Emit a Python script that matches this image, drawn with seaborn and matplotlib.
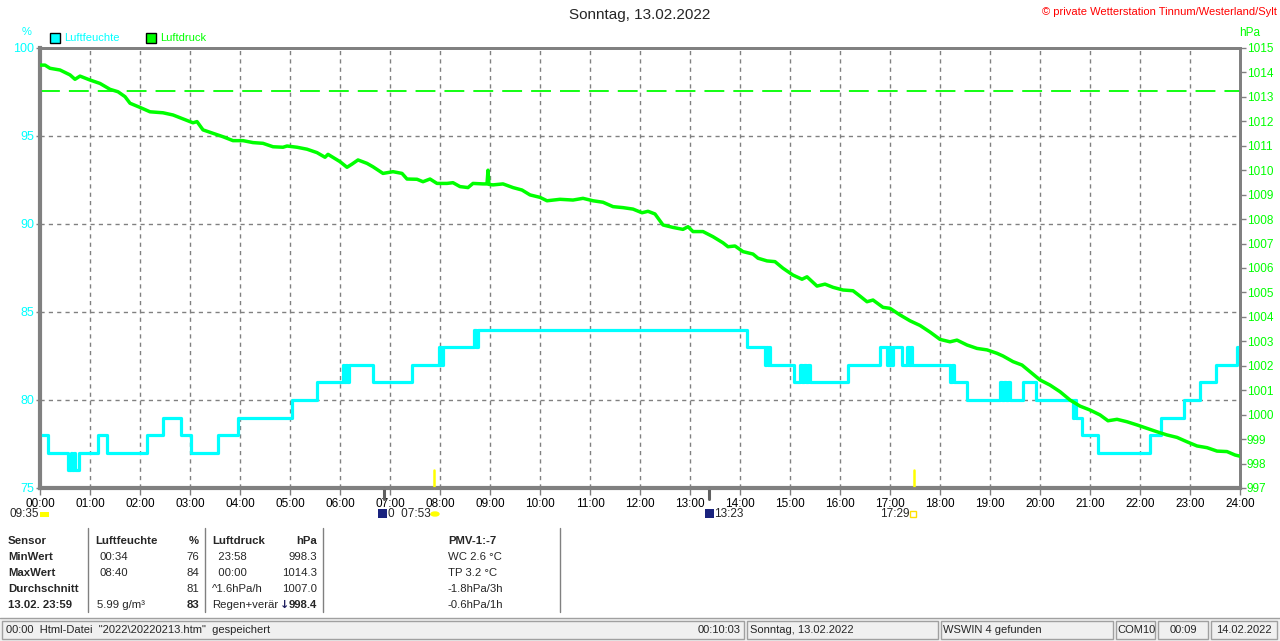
import pandas as pd
import matplotlib
matplotlib.use("Agg")
import matplotlib.pyplot as plt
import matplotlib.transforms as mtransforms
from matplotlib.patches import Rectangle
import seaborn as sns

# Luftfeuchte (%): step function, hour of change -> new value
hum_hours = [0.00, 0.16, 0.56, 0.62, 0.64, 0.68, 0.70, 0.78, 1.16, 1.34, 2.14, 2.46,
             2.82, 3.02, 3.56, 3.96, 5.04, 5.54, 6.06, 6.08, 6.12, 6.14, 6.18, 6.66,
             7.44, 7.98, 8.00, 8.02, 8.04, 8.06, 8.67, 8.72, 8.76, 14.14, 14.50, 14.52,
             14.56, 14.58, 14.60, 15.08, 15.20, 15.24, 15.28, 15.32, 15.36, 15.40, 16.16,
             16.80, 16.94, 16.98, 17.02, 17.06, 17.24, 17.34, 17.38, 17.42, 17.44, 18.20,
             18.24, 18.28, 18.54, 19.20, 19.24, 19.28, 19.32, 19.36, 19.40, 19.66, 19.92,
             20.66, 20.68, 20.72, 20.84, 21.16, 22.20, 22.42, 22.88, 23.20, 23.52, 23.94,
             24.00]
hum_values = [78, 77, 76, 77, 76, 77, 76, 77, 78, 77, 78, 79,
              78, 77, 78, 79, 80, 81, 82, 81, 82, 81, 82, 81,
              82, 83, 82, 83, 82, 83, 84, 83, 84, 83, 82, 83,
              82, 83, 82, 81, 82, 81, 82, 81, 82, 81, 82,
              83, 82, 83, 82, 83, 82, 83, 82, 83, 82, 81,
              82, 81, 80, 81, 80, 81, 80, 81, 80, 81, 80,
              79, 80, 79, 78, 77, 78, 79, 80, 81, 82, 83,
              83]

# Luftdruck (hPa)
press_hours = [0.00, 0.10, 0.20, 0.40, 0.60, 0.70, 0.80, 1.00, 1.20, 1.40, 1.56, 1.70,
               1.80, 2.00, 2.20, 2.46, 2.66, 2.86, 3.06, 3.14, 3.26, 3.46, 3.66, 3.86,
               4.06, 4.26, 4.46, 4.66, 4.86, 4.94, 5.14, 5.34, 5.54, 5.70, 5.76, 6.00,
               6.14, 6.24, 6.36, 6.54, 6.66, 6.86, 7.06, 7.24, 7.34, 7.54, 7.66, 7.80,
               7.94, 8.14, 8.26, 8.40, 8.56, 8.66, 8.86, 8.94, 8.96, 8.98, 9.06, 9.26,
               9.46, 9.64, 9.80, 10.00, 10.14, 10.40, 10.66, 10.86, 11.06, 11.26, 11.46,
               11.66, 11.86, 12.04, 12.16, 12.30, 12.46, 12.66, 12.86, 12.96, 13.06, 13.26,
               13.46, 13.66, 13.76, 13.90, 14.06, 14.26, 14.36, 14.54, 14.70, 14.86, 15.06,
               15.24, 15.34, 15.54, 15.70, 15.86, 16.06, 16.26, 16.40, 16.54, 16.66, 16.86,
               17.00, 17.20, 17.40, 17.60, 17.80, 18.00, 18.20, 18.34, 18.54, 18.74, 18.94,
               19.14, 19.26, 19.46, 19.64, 19.80, 20.00, 20.20, 20.40, 20.60, 20.80, 21.00,
               21.20, 21.36, 21.54, 21.74, 21.94, 22.14, 22.34, 22.54, 22.74, 22.94, 23.14,
               23.34, 23.54, 23.74, 23.90, 24.00]
press_values = [1014.30, 1014.30, 1014.17, 1014.10, 1013.90, 1013.72, 1013.85, 1013.69,
                1013.55, 1013.31, 1013.21, 1013.01, 1012.74, 1012.57, 1012.39, 1012.35,
                1012.26, 1012.10, 1011.94, 1011.99, 1011.65, 1011.51, 1011.37, 1011.21,
                1011.21, 1011.13, 1011.10, 1010.96, 1010.94, 1010.99, 1010.94, 1010.86,
                1010.72, 1010.53, 1010.65, 1010.35, 1010.12, 1010.25, 1010.42, 1010.28,
                1010.14, 1009.87, 1009.94, 1009.87, 1009.64, 1009.63, 1009.53, 1009.64,
                1009.46, 1009.46, 1009.49, 1009.33, 1009.29, 1009.46, 1009.44, 1009.44,
                1010.00, 1009.42, 1009.40, 1009.44, 1009.29, 1009.19, 1008.99, 1008.89,
                1008.75, 1008.81, 1008.78, 1008.85, 1008.75, 1008.69, 1008.51, 1008.47,
                1008.41, 1008.26, 1008.32, 1008.21, 1007.76, 1007.66, 1007.58, 1007.69,
                1007.49, 1007.49, 1007.28, 1007.03, 1006.87, 1006.90, 1006.67, 1006.57,
                1006.40, 1006.29, 1006.26, 1005.99, 1005.71, 1005.54, 1005.64, 1005.26,
                1005.34, 1005.21, 1005.10, 1005.07, 1004.85, 1004.62, 1004.69, 1004.39,
                1004.35, 1004.08, 1003.84, 1003.65, 1003.38, 1003.08, 1002.98, 1003.05,
                1002.85, 1002.71, 1002.65, 1002.51, 1002.40, 1002.17, 1002.03, 1001.76,
                1001.42, 1001.21, 1000.94, 1000.60, 1000.35, 1000.19, 999.99, 999.75,
                999.81, 999.71, 999.58, 999.44, 999.30, 999.17, 999.07, 998.89, 998.72,
                998.65, 998.51, 998.49, 998.35, 998.30]

norm_pressure = 1013.25
hour_ticks = list(range(25))
hour_labels = [f"{h:02d}:00" for h in hour_ticks]
hum_ticks = [75, 80, 85, 90, 95, 100]
press_ticks = list(range(997, 1016))
moon_hours = [6.88, 13.38]
sun_hours = [7.88, 17.48]

CYAN = "#00FFFF"
GREEN = "#00FF00"
GRAY = "#808080"
W, H = 1280, 641
TFS = 8.2  # table font size

sns.set_style("white")
plt.rcParams["font.family"] = ["Liberation Sans", "DejaVu Sans"]

fig = plt.figure(figsize=(W / 100, H / 100), dpi=100)
ax = fig.add_axes([40 / W, 1 - 488 / H, 1200 / W, 440 / H])
ax2 = ax.twinx()

hum = pd.DataFrame({"hour": hum_hours, "value": hum_values})
press = pd.DataFrame({"hour": press_hours, "value": press_values})

sns.lineplot(data=hum, x="hour", y="value", ax=ax, color=CYAN, linewidth=2.3,
             drawstyle="steps-post", estimator=None, sort=False, zorder=4)
sns.lineplot(data=press, x="hour", y="value", ax=ax2, color=GREEN, linewidth=2.5,
             estimator=None, sort=False, zorder=5)
ax2.axhline(norm_pressure, color=GREEN, linewidth=1.3, dashes=(11, 5))

ax.set_xlim(0, 24)
ax.set_ylim(75, 100)
ax2.set_ylim(997, 1015)
ax.set_xticks(hour_ticks)
ax.set_xticklabels(hour_labels)
ax.set_yticks(hum_ticks)
ax2.set_yticks(press_ticks)
ax.set_xlabel("")
ax.set_ylabel("")
ax2.set_ylabel("")

ax.grid(True, color=GRAY, linestyle=(0, (3, 3)), linewidth=1)
ax2.grid(False)
for a in (ax, ax2):
    for s in a.spines.values():
        s.set_color(GRAY)
        s.set_linewidth(2)
ax.spines["left"].set_linewidth(3)
ax.spines["bottom"].set_linewidth(3)

ax.tick_params(axis="x", colors=GRAY, labelcolor="black", labelsize=8.5, length=5,
               width=1, direction="out", bottom=True, pad=2)
ax.tick_params(axis="y", colors=GRAY, labelcolor=CYAN, labelsize=9, length=3,
               width=1, direction="out", left=True, pad=1)
ax2.tick_params(axis="y", colors=GRAY, labelcolor=GREEN, labelsize=8.5, length=4,
                width=1, direction="out", right=True, pad=1)

# sun / moon markers on the time axis
trans = mtransforms.blended_transform_factory(ax.transData, ax.transAxes)
for h in moon_hours:
    ax.plot([h, h], [0.0, -0.025], transform=trans, color="#606060", linewidth=2.2,
            clip_on=False, zorder=6)
for h in sun_hours:
    ax.plot([h, h], [0.0, 0.04], transform=trans, color="#FFFF00", linewidth=1.8,
            clip_on=False, zorder=6)


def fx(x):
    return x / W


def fy(y):
    return 1 - y / H


def txt(x, y, s, **kw):
    kw.setdefault("fontsize", TFS)
    kw.setdefault("va", "center")
    fig.text(fx(x), fy(y), s, **kw)


def rect(x, y, w, h, fc, ec="none", lw=1):
    fig.patches.append(Rectangle((fx(x), fy(y + h)), w / W, h / H, facecolor=fc,
                                 edgecolor=ec, linewidth=lw, transform=fig.transFigure))


def vline(x, y0, y1, color=GRAY, lw=1):
    fig.add_artist(plt.Line2D([fx(x), fx(x)], [fy(y0), fy(y1)], color=color,
                              linewidth=lw, transform=fig.transFigure))


def hline(y, x0, x1, color=GRAY, lw=1):
    fig.add_artist(plt.Line2D([fx(x0), fx(x1)], [fy(y), fy(y)], color=color,
                              linewidth=lw, transform=fig.transFigure))


# header
txt(640, 15, "Sonntag, 13.02.2022", fontsize=11, ha="center")
txt(1277, 12, "© private Wetterstation Tinnum/Westerland/Sylt", fontsize=8,
    ha="right", color="red")
txt(27, 32, "%", fontsize=8, color=CYAN, ha="center")
txt(1250, 33, "hPa", fontsize=8.5, color=GREEN, ha="center")
rect(50, 33, 10, 10, CYAN, "black", 1)
txt(64, 38, "Luftfeuchte", fontsize=8, color=CYAN)
rect(146, 33, 10, 10, GREEN, "black", 1)
txt(160, 38, "Luftdruck", fontsize=8, color=GREEN)

# sun / moon times under the axis
txt(10, 514, "09:35", fontsize=8.5)
rect(40, 512, 9, 5, "#FFFF00")
rect(378, 509, 9, 9, "#1A237E")
txt(388, 514, "0  07:53", fontsize=8.5)
fig.patches.append(plt.Circle((fx(435), fy(514)), 4 / W, color="#FFFF00",
                              transform=fig.transFigure))
rect(705, 509, 9, 9, "#1A237E")
txt(714, 514, "13:23", fontsize=8.5)
txt(880, 514, "17:29", fontsize=8.5)
rect(910, 511, 6, 6, "none", "#FFE000", 1)

# summary table
rows_y = [541, 557, 573, 589, 605]
col1 = ["Sensor", "MinWert", "MaxWert", "Durchschnitt", "13.02. 23:59"]
for y, s in zip(rows_y, col1):
    txt(8, y, s, fontweight="bold")
for x in (88, 205, 323, 560):
    vline(x, 528, 612)

txt(95, rows_y[0], "Luftfeuchte", fontweight="bold")
txt(199, rows_y[0], "%", fontweight="bold", ha="right")
hum_left = ["00:34", "08:40", "", "5.99 g/m³"]
hum_right = ["76", "84", "81", "83"]
for i, (l, r) in enumerate(zip(hum_left, hum_right)):
    y = rows_y[i + 1]
    txt(99 if i < 3 else 97, y, l)
    txt(199, y, r, ha="right", fontweight="bold" if i == 3 else "normal")

txt(212, rows_y[0], "Luftdruck", fontweight="bold")
txt(317, rows_y[0], "hPa", fontweight="bold", ha="right")
pr_left = ["  23:58", "  00:00", "^1.6hPa/h", "Regen+verär"]
pr_right = ["998.3", "1014.3", "1007.0", "998.4"]
for i, (l, r) in enumerate(zip(pr_left, pr_right)):
    y = rows_y[i + 1]
    txt(212, y, l)
    txt(317, y, r, ha="right", fontweight="bold" if i == 3 else "normal")
txt(280, rows_y[4], "↓", family="DejaVu Sans", fontsize=8, color="#202060",
    fontweight="bold")

pmv = ["PMV-1:-7", "WC 2.6 °C", "TP 3.2 °C", "-1.8hPa/3h", "-0.6hPa/1h"]
for i, (y, s) in enumerate(zip(rows_y, pmv)):
    txt(448, y, s, fontweight="bold" if i == 0 else "normal")

# status bar
rect(0, 619, W, 22, "#F0F0F0")
hline(618, 0, W, color="#A0A0A0", lw=1)
panels = [(2, 744), (747, 938), (941, 1113), (1116, 1155), (1158, 1208), (1211, 1277)]
for x0, x1 in panels:
    rect(x0, 621, x1 - x0, 18, "none", "#A0A0A0", 1)
txt(6, 630, '00:00  Html-Datei  "2022\\20220213.htm"  gespeichert', fontsize=8)
txt(741, 630, "00:10:03", fontsize=8, ha="right")
txt(750, 630, "Sonntag, 13.02.2022", fontsize=8)
txt(943, 630, "WSWIN 4 gefunden", fontsize=8)
txt(1117, 630, "COM10", fontsize=8)
txt(1183, 630, "00:09", fontsize=8, ha="center")
txt(1244, 630, "14.02.2022", fontsize=8, ha="center")

fig.savefig("out.png", dpi=100, facecolor="white")
